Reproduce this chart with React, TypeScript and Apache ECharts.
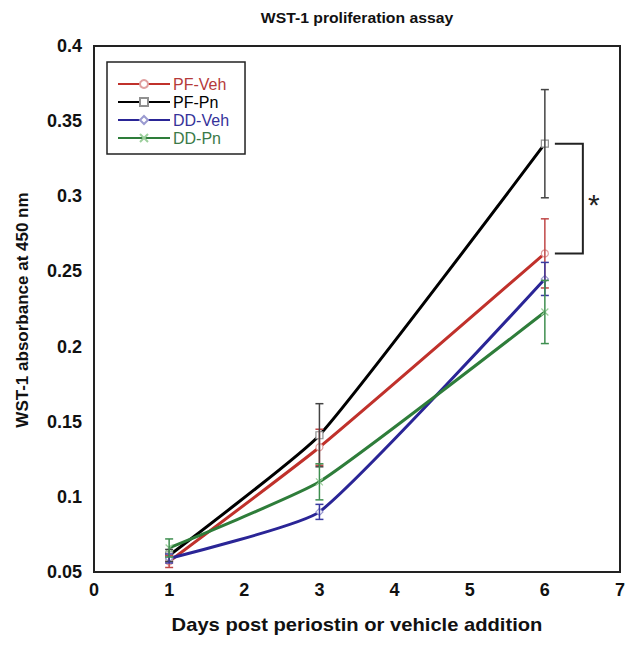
import React, { useEffect, useRef } from "react";
import * as echarts from "echarts";

const days = [1, 3, 6];
const seriesNames = ["PF-Veh", "PF-Pn", "DD-Veh", "DD-Pn"];
const pfVeh = [0.057, 0.133, 0.262];
const pfVehErr = [0.004, 0.012, 0.023];
const pfPn = [0.061, 0.141, 0.335];
const pfPnErr = [0.004, 0.021, 0.036];
const ddVeh = [0.059, 0.09, 0.245];
const ddVehErr = [0.003, 0.005, 0.011];
const ddPn = [0.066, 0.11, 0.223];
const ddPnErr = [0.006, 0.012, 0.021];
const xTicks = [0, 1, 2, 3, 4, 5, 6, 7];
const yTicks = [0.05, 0.1, 0.15, 0.2, 0.25, 0.3, 0.35, 0.4];
const sigPair = [0.335, 0.262];

const FONT = "'Liberation Sans', Arial, sans-serif";
const lineColors = ["#c0312b", "#000000", "#2a2596", "#2e7d3a"];
const markerColors = ["#e0a0a0", "#909090", "#9a9ad0", "#9ccf9c"];
const errColors = ["#c04848", "#444444", "#3a3aa0", "#3f8f50"];
const textColors = ["#b53a3a", "#000000", "#35329a", "#3a7a48"];
const symbols = ["circle", "rect", "diamond", "path://M0,0L10,10M10,0L0,10"];

export default function App() {
  const ref = useRef<HTMLDivElement>(null);
  useEffect(() => {
    document.body.style.margin = "0";
    const chart = echarts.init(ref.current!, null, { renderer: "svg" });
    const values = [pfVeh, pfPn, ddVeh, ddPn];
    const errs = [pfVehErr, pfPnErr, ddVehErr, ddPnErr];

    const lineSeries = seriesNames.map((name, i) => ({
      name,
      type: "line",
      smooth: 0.15,
      data: days.map((d, j) => [d, values[i][j]]),
      symbol: symbols[i],
      symbolSize: 7,
      showSymbol: true,
      lineStyle: { color: lineColors[i], width: 3 },
      itemStyle: { color: "#ffffff", borderColor: markerColors[i], borderWidth: 1.2 },
      z: 2,
    }));

    const errSeries = seriesNames.map((name, i) => ({
      name: name + "-err",
      type: "custom",
      data: days.map((d, j) => [d, values[i][j] - errs[i][j], values[i][j] + errs[i][j]]),
      renderItem: (params: any, api: any) => {
        const x = api.value(0);
        const lo = api.coord([x, api.value(1)]);
        const hi = api.coord([x, api.value(2)]);
        const cw = 4;
        const st = { stroke: errColors[i], lineWidth: 1.5 };
        return {
          type: "group",
          children: [
            { type: "line", shape: { x1: lo[0], y1: lo[1], x2: hi[0], y2: hi[1] }, style: st },
            { type: "line", shape: { x1: lo[0] - cw, y1: lo[1], x2: lo[0] + cw, y2: lo[1] }, style: st },
            { type: "line", shape: { x1: hi[0] - cw, y1: hi[1], x2: hi[0] + cw, y2: hi[1] }, style: st },
          ],
        };
      },
      z: 3,
    }));

    chart.setOption({
      animation: false,
      textStyle: { fontFamily: FONT },
      grid: {
        left: 94,
        right: 17,
        top: 46,
        bottom: 75,
        show: true,
        borderColor: "#222",
        borderWidth: 2,
      },
      legend: {
        left: 107,
        top: 62,
        orient: "vertical",
        data: seriesNames.map((n, i) => ({ name: n, textStyle: { color: textColors[i] } })),
        itemWidth: 52,
        itemHeight: 10,
        itemGap: 2,
        padding: [14, 16, 8, 10],
        borderColor: "#222",
        borderWidth: 1.5,
        textStyle: { fontSize: 16, fontFamily: FONT, padding: [0, 0, 0, -2] },
      },
      xAxis: {
        type: "value",
        min: xTicks[0],
        max: xTicks[xTicks.length - 1],
        interval: 1,
        axisLine: { show: true, lineStyle: { color: "#222", width: 2 } },
        axisTick: { show: false },
        splitLine: { show: false },
        axisLabel: { fontSize: 18, fontWeight: "bold", color: "#111", margin: 9, fontFamily: FONT },
      },
      yAxis: {
        type: "value",
        min: yTicks[0],
        max: yTicks[yTicks.length - 1],
        interval: 0.05,
        axisLine: { show: true, lineStyle: { color: "#222", width: 2 } },
        axisTick: { show: false },
        splitLine: { show: false },
        axisLabel: {
          fontSize: 18,
          fontWeight: "bold",
          color: "#111",
          margin: 12,
          fontFamily: FONT,
          formatter: (v: number) => String(+v.toFixed(2)),
        },
      },
      series: [...lineSeries, ...errSeries],
    });

    const p1 = chart.convertToPixel({ gridIndex: 0 }, [days[2], sigPair[0]]) as number[];
    const p2 = chart.convertToPixel({ gridIndex: 0 }, [days[2], sigPair[1]]) as number[];
    const bx1 = p1[0] + 10;
    const bx2 = p1[0] + 38;

    chart.setOption({
      graphic: [
        {
          type: "text",
          x: 357,
          y: 18,
          scaleX: 1.05,
          style: {
            text: "WST-1 proliferation assay",
            fontSize: 15,
            fontWeight: "bold",
            fontFamily: FONT,
            fill: "#111",
            textAlign: "center",
            textVerticalAlign: "middle",
          },
        },
        {
          type: "text",
          x: 357,
          y: 625,
          scaleX: 1.12,
          style: {
            text: "Days post periostin or vehicle addition",
            fontSize: 18,
            fontWeight: "bold",
            fontFamily: FONT,
            fill: "#111",
            textAlign: "center",
            textVerticalAlign: "middle",
          },
        },
        {
          type: "text",
          x: 22,
          y: 310,
          rotation: Math.PI / 2,
          style: {
            text: "WST-1 absorbance at 450 nm",
            fontSize: 17,
            fontWeight: "bold",
            fontFamily: FONT,
            fill: "#111",
            textAlign: "center",
            textVerticalAlign: "middle",
          },
        },
        {
          type: "polyline",
          shape: { points: [[bx1, p1[1]], [bx2, p1[1]], [bx2, p2[1]], [bx1, p2[1]]] },
          style: { stroke: "#222", lineWidth: 2, fill: "none" },
        },
        {
          type: "text",
          x: bx2 + 11,
          y: (p1[1] + p2[1]) / 2 + 6,
          style: {
            text: "*",
            fontSize: 30,
            fontFamily: FONT,
            fill: "#222",
            textAlign: "center",
            textVerticalAlign: "middle",
          },
        },
      ],
    });

    return () => chart.dispose();
  }, []);
  return <div ref={ref} style={{ width: 637, height: 647 }} />;
}
